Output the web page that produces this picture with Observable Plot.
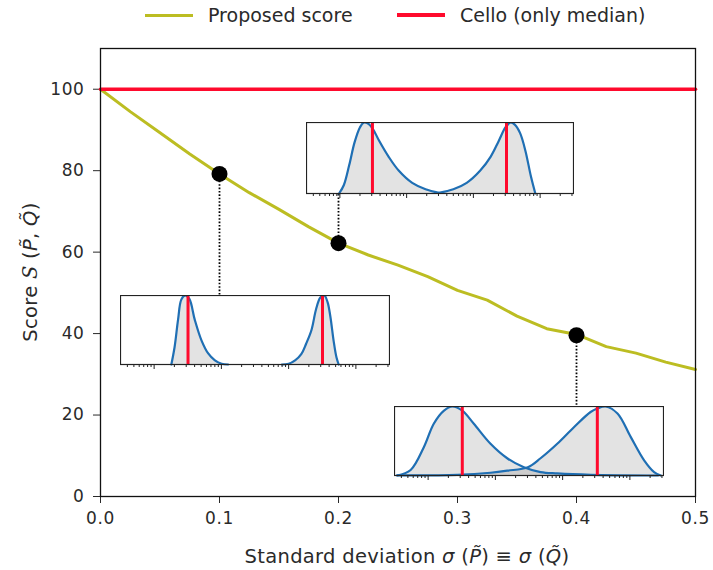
<!DOCTYPE html>
<html><head><meta charset="utf-8">
<script src="https://cdn.jsdelivr.net/npm/d3@7"></script>
<script src="https://cdn.jsdelivr.net/npm/@observablehq/plot@0.6"></script>
<style>
body{margin:0;background:#fff;font-family:"DejaVu Sans",sans-serif;}
#legend{height:32px;position:relative;font-size:19px;color:#2a2a2a;}
.item{position:absolute;top:0;height:30px;display:flex;align-items:center;white-space:nowrap;}
.sw{display:inline-block;width:48px;height:3px;margin-right:15px;}
#wrap{position:relative;width:713px;height:538px;}
.inset{position:absolute;}
</style></head><body>
<div id="legend"></div>
<div id="wrap"></div>
<script>
// ---------- main data ----------
const sigmaValues = [0, 0.025, 0.05, 0.075, 0.1, 0.125, 0.15, 0.175, 0.2, 0.225, 0.25, 0.275, 0.3, 0.325, 0.35, 0.375, 0.4, 0.425, 0.45, 0.475, 0.5];
const proposedScore = [100, 94.5, 89.3, 84.1, 79.2, 74.6, 70.5, 66.2, 62.2, 59.3, 56.8, 54.0, 50.6, 48.2, 44.3, 41.2, 39.8, 36.8, 35.2, 33.0, 31.2];
const celloSigma = [0, 0.5];
const celloScore = [100, 100];
const highlightSigma = [0.1, 0.2, 0.4];
const highlightScore = [79.2, 62.2, 39.6];
const xTicks = [0, 0.1, 0.2, 0.3, 0.4, 0.5];
const yTicks = [0, 20, 40, 60, 80, 100];
const seriesNames = ["Proposed score", "Cello (only median)"];
const seriesColors = ["#bcbd22", "#ff0a2d"];

// ---------- inset data (x: fraction of inset axis, h: relative density) ----------
const insetA_leftX  = [0.122, 0.14, 0.16, 0.18, 0.20, 0.215, 0.232, 0.25, 0.271, 0.309, 0.346, 0.396, 0.446, 0.496];
const insetA_leftH  = [0, 0.12, 0.40, 0.72, 0.93, 1.0, 0.98, 0.90, 0.75, 0.51, 0.32, 0.15, 0.06, 0.01];
const insetA_rightX = [0.496, 0.55, 0.60, 0.65, 0.69, 0.72, 0.745, 0.764, 0.78, 0.80, 0.82, 0.84, 0.857];
const insetA_rightH = [0.01, 0.06, 0.15, 0.32, 0.52, 0.74, 0.93, 1.0, 0.97, 0.85, 0.60, 0.25, 0];
const insetA_medians = [0.247, 0.749];

const insetB_leftX  = [0.189, 0.201, 0.214, 0.226, 0.24, 0.256, 0.276, 0.301, 0.326, 0.351, 0.376, 0.40];
const insetB_leftH  = [0, 0.25, 0.65, 0.94, 1.0, 0.95, 0.65, 0.35, 0.16, 0.06, 0.01, 0];
const insetB_rightX = [0.60, 0.625, 0.649, 0.672, 0.69, 0.71, 0.727, 0.743, 0.758, 0.77, 0.78, 0.792, 0.803, 0.811];
const insetB_rightH = [0, 0.01, 0.06, 0.15, 0.30, 0.50, 0.80, 0.97, 1.0, 0.90, 0.70, 0.35, 0.10, 0];
const insetB_medians = [0.251, 0.751];

const insetC_leftX  = [0.01, 0.06, 0.109, 0.146, 0.184, 0.215, 0.252, 0.295, 0.357, 0.419, 0.481, 0.543, 0.605, 0.73, 0.98];
const insetC_leftH  = [0, 0.08, 0.41, 0.75, 0.94, 1.0, 0.94, 0.75, 0.46, 0.25, 0.12, 0.05, 0.03, 0.01, 0];
const insetC_rightX = [0.01, 0.233, 0.357, 0.419, 0.496, 0.543, 0.605, 0.667, 0.729, 0.754, 0.785, 0.829, 0.878, 0.928, 0.965, 0.99];
const insetC_rightH = [0.003, 0.01, 0.04, 0.07, 0.12, 0.25, 0.46, 0.70, 0.92, 0.97, 1.0, 0.90, 0.56, 0.22, 0.05, 0];
const insetC_medians = [0.252, 0.754];

const insetMajorTicks = [1, 10, 100, 1000];
const insetMinorTicks = [0.4,0.5,0.6,0.7,0.8,0.9, 2,3,4,5,6,7,8,9, 20,30,40,50,60,70,80,90, 200,300,400,500,600,700,800,900, 2000,3000];

// inset placement in main-chart data coordinates (layout, not data)
const insetLayout = [
  {x0: 0.173, x1: 0.3975, y0: 74.4, y1: 91.9, left: [insetA_leftX, insetA_leftH], right: [insetA_rightX, insetA_rightH], med: insetA_medians, anchorIdx: 1},
  {x0: 0.0168, x1: 0.243, y0: 32.3, y1: 49.3, left: [insetB_leftX, insetB_leftH], right: [insetB_rightX, insetB_rightH], med: insetB_medians, anchorIdx: 0},
  {x0: 0.247, x1: 0.4735, y0: 5.2, y1: 22.2, left: [insetC_leftX, insetC_leftH], right: [insetC_rightX, insetC_rightH], med: insetC_medians, anchorIdx: 2}
];

// ---------- legend ----------
const legend = document.getElementById("legend");
[145, 397].forEach((lx, i) => {
  const it = document.createElement("div");
  it.className = "item"; it.style.left = lx + "px";
  const sw = document.createElement("span"); sw.className = "sw"; sw.style.background = seriesColors[i];
  if (i === 1) sw.style.height = "4px";
  it.appendChild(sw);
  it.appendChild(document.createTextNode(seriesNames[i]));
  legend.appendChild(it);
});

// ---------- main chart ----------
const scoreData = sigmaValues.map((s, i) => ({s, v: proposedScore[i]}));
const celloData = celloSigma.map((s, i) => ({s, v: celloScore[i]}));
const pts = highlightSigma.map((s, i) => ({s, v: highlightScore[i]}));
const connectors = insetLayout.map(L => {
  const p = pts[L.anchorIdx];
  return {x: p.s, y1: p.v, y2: p.v > L.y1 ? L.y1 : L.y0};
});

const chart = Plot.plot({
  width: 713, height: 538,
  marginLeft: 100, marginRight: 18, marginTop: 16, marginBottom: 74,
  style: {fontFamily: "DejaVu Sans", fontSize: "17px", color: "#2a2a2a", background: "white", letterSpacing: "0.6px"},
  x: {domain: [0, 0.5], label: null},
  y: {domain: [0, 110], label: null},
  marks: [
    Plot.axisX(xTicks, {tickFormat: d3.format(".1f"), tickSize: 7, tickPadding: 8, label: null, fontSize: 17}),
    Plot.axisY(yTicks, {tickSize: 7, tickPadding: 9, label: null, fontSize: 17}),
    Plot.line(scoreData, {x: "s", y: "v", stroke: seriesColors[0], strokeWidth: 3}),
    Plot.line(celloData, {x: "s", y: "v", stroke: seriesColors[1], strokeWidth: 3.5}),
    Plot.link(connectors, {x1: "x", x2: "x", y1: "y1", y2: "y2", stroke: "#000", strokeWidth: 1.8, strokeDasharray: "1.6,1.8"}),
    Plot.dot(pts, {x: "s", y: "v", r: 8, fill: "#000"}),
    Plot.frame({stroke: "#111", strokeWidth: 1.3})
  ]
});
const wrap = document.getElementById("wrap");
wrap.appendChild(chart);

// axis titles with math styling
const svg = d3.select(chart);
const xt = svg.append("text").attr("x", 407).attr("y", 531).attr("text-anchor", "middle")
  .attr("font-size", 19.5).attr("fill", "#2a2a2a").attr("letter-spacing", "0.3px");
xt.append("tspan").text("Standard deviation ");
xt.append("tspan").attr("font-style", "italic").text("σ");
xt.append("tspan").text(" (");
xt.append("tspan").attr("font-style", "italic").text("P\u0303");
xt.append("tspan").text(") ≡ ");
xt.append("tspan").attr("font-style", "italic").text("σ");
xt.append("tspan").text(" (");
xt.append("tspan").attr("font-style", "italic").text("Q\u0303");
xt.append("tspan").text(")");

const yt = svg.append("text").attr("transform", "translate(37,240) rotate(-90)").attr("text-anchor", "middle")
  .attr("font-size", 19.5).attr("fill", "#2a2a2a").attr("letter-spacing", "0.3px");
yt.append("tspan").text("Score ");
yt.append("tspan").attr("font-style", "italic").attr("font-family", "DejaVu Serif").text("S");
yt.append("tspan").text(" (");
yt.append("tspan").attr("font-style", "italic").text("P\u0303");
yt.append("tspan").text(", ");
yt.append("tspan").attr("font-style", "italic").text("Q\u0303");
yt.append("tspan").text(")");

// ---------- insets ----------
const sx = chart.scale("x"), sy = chart.scale("y");
const toAxis = f => Math.pow(10, f * 4 - 0.5);
insetLayout.forEach(L => {
  const px0 = Math.round(sx.apply(L.x0)), px1 = Math.round(sx.apply(L.x1));
  const py1 = Math.round(sy.apply(L.y1)), py0 = Math.round(sy.apply(L.y0));
  const w = px1 - px0, h = py0 - py1;
  const left = L.left[0].map((f, i) => ({x: toAxis(f), y: L.left[1][i]}));
  const right = L.right[0].map((f, i) => ({x: toAxis(f), y: L.right[1][i]}));
  const meds = L.med.map(toAxis);
  const ins = Plot.plot({
    width: w + 1, height: h + 6,
    marginLeft: 0, marginRight: 1, marginTop: 0, marginBottom: 6,
    style: {background: "transparent"},
    x: {type: "log", domain: [Math.pow(10, -0.5), Math.pow(10, 3.5)], label: null},
    y: {domain: [0, 1.0], axis: null},
    marks: [
      Plot.frame({fill: "white", stroke: "none"}),
      Plot.areaY(left, {x: "x", y: "y", fill: "#808080", fillOpacity: 0.22, curve: "catmull-rom"}),
      Plot.areaY(right, {x: "x", y: "y", fill: "#808080", fillOpacity: 0.22, curve: "catmull-rom"}),
      Plot.line(left, {x: "x", y: "y", stroke: "#1f6fb4", strokeWidth: 2.2, curve: "catmull-rom"}),
      Plot.line(right, {x: "x", y: "y", stroke: "#1f6fb4", strokeWidth: 2.2, curve: "catmull-rom"}),
      Plot.ruleX(meds, {stroke: seriesColors[1], strokeWidth: 3}),
      Plot.axisX(insetMajorTicks, {tickSize: 5, tickFormat: () => "", label: null, stroke: "#222"}),
      Plot.axisX(insetMinorTicks, {tickSize: 3, tickFormat: () => "", label: null, stroke: "#222"}),
      Plot.frame({stroke: "#222", strokeWidth: 1.2})
    ]
  });
  const div = document.createElement("div");
  div.className = "inset";
  div.style.left = px0 + "px"; div.style.top = py1 + "px";
  div.appendChild(ins);
  wrap.appendChild(div);
});
</script>
</body></html>
